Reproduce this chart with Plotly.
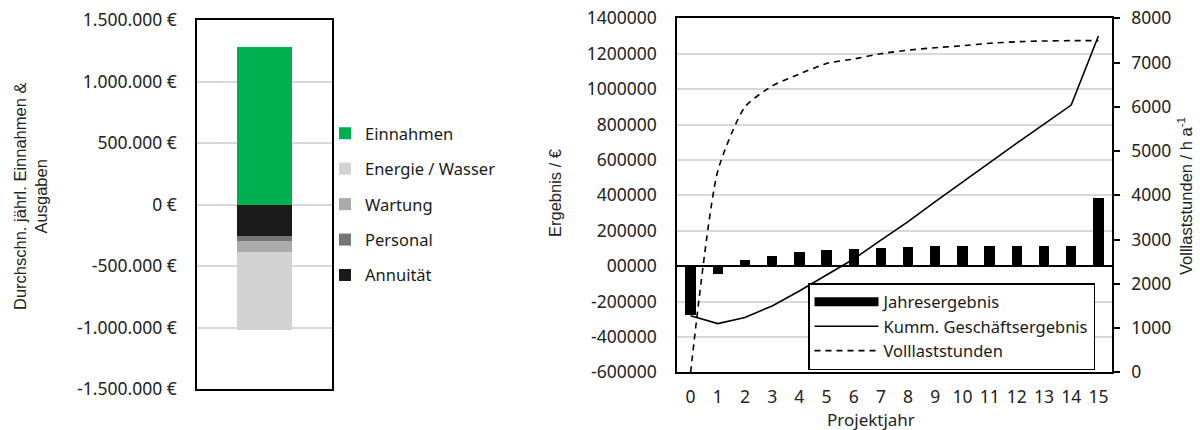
import plotly.graph_objects as go

# ---------------- data: left chart (average yearly income & costs) ----------------
avg_categories = ["Einnahmen", "Annuität", "Personal", "Wartung", "Energie / Wasser"]
avg_values = [1280000, -260000, -40000, -90000, -630000]
avg_colors = ["#00B050", "#1A1A1A", "#767676", "#ABABAB", "#D3D3D3"]
avg_legend_rank = [1, 5, 4, 3, 2]
left_tick_vals = [1500000, 1000000, 500000, 0, -500000, -1000000, -1500000]
left_tick_text = ["1.500.000 €", "1.000.000 €", "500.000 €", "0 €",
                  "-500.000 €", "-1.000.000 €", "-1.500.000 €"]

# ---------------- data: right chart (project years) ----------------
years = [0, 1, 2, 3, 4, 5, 6, 7, 8, 9, 10, 11, 12, 13, 14, 15]
jahresergebnis = [-280000, -47000, 34000, 58000, 77000, 90000, 94000, 100000,
                  106000, 110000, 110000, 113000, 113000, 113000, 113000, 383000]
kumm_ergebnis = [-280000, -325000, -290000, -225000, -141000, -51000, 40000, 147000,
                 251000, 364000, 475000, 585000, 695000, 802000, 910000, 1300000]
volllaststunden = [0, 4550, 6000, 6470, 6740, 6980, 7080, 7200,
                   7280, 7335, 7380, 7435, 7470, 7487, 7495, 7495]
right_tick_vals = [1400000, 1200000, 1000000, 800000, 600000, 400000, 200000, 0,
                   -200000, -400000, -600000]
right_tick_text = ["1400000", "1200000", "1000000", "800000", "600000", "400000",
                   "200000", "00000", "-200000", "-400000", "-600000"]
hours_tick_vals = [0, 1000, 2000, 3000, 4000, 5000, 6000, 7000, 8000]

W, H = 1200, 430
TICKFONT = dict(family="Noto Sans", size=17.5, color="#222222")
LEGFONT = dict(family="Noto Sans", size=16.5, color="#1A1A1A")
LEG2FONT = dict(family="Noto Sans", size=16.5, color="#1A1A1A")
TITLEFONT = dict(family="Liberation Sans", size=16.5, color="#222222")


def px_x(x):
    return x / W


def px_y(y):
    return 1 - y / H


fig = go.Figure()

# left stacked bar
for cat, val, col, rk in zip(avg_categories, avg_values, avg_colors, avg_legend_rank):
    fig.add_trace(go.Bar(
        x=[0], y=[val], name=cat, marker=dict(color=col, line=dict(width=0)),
        width=0.41, xaxis="x", yaxis="y", legend="legend", legendrank=rk,
        legendgroup=cat, hoverinfo="skip"))

# right chart
fig.add_trace(go.Bar(
    x=years, y=jahresergebnis, name="Jahresergebnis", marker=dict(color="black", line=dict(width=0)),
    width=0.38, xaxis="x2", yaxis="y2", showlegend=False, hoverinfo="skip"))
fig.add_trace(go.Scatter(
    x=years, y=kumm_ergebnis, name="Kumm. Geschäftsergebnis", mode="lines",
    line=dict(color="black", width=1.6), xaxis="x2", yaxis="y2",
    legend="legend2", legendrank=2, hoverinfo="skip"))
fig.add_trace(go.Scatter(
    x=years, y=volllaststunden, name="Volllaststunden", mode="lines",
    line=dict(color="black", width=1.6, dash="6px,5px", shape="spline", smoothing=0.6),
    xaxis="x2", yaxis="y3", legend="legend2", legendrank=3, hoverinfo="skip"))
# legend entry for the annual-result bars (wide filled rectangle symbol)
fig.add_trace(go.Scatter(
    x=[None], y=[None], name="Jahresergebnis", mode="lines",
    line=dict(color="black", width=9), xaxis="x2", yaxis="y2",
    legend="legend2", legendrank=1, hoverinfo="skip"))

fig.update_layout(
    width=W, height=H,
    margin=dict(l=0, r=0, t=0, b=0, autoexpand=False),
    paper_bgcolor="white", plot_bgcolor="white",
    barmode="relative",
    bargap=0,
    font=TICKFONT,
    xaxis=dict(domain=[px_x(197), px_x(332)], range=[-0.5, 0.5], showticklabels=False,
               showgrid=False, zeroline=False, showline=True, mirror=True,
               linecolor="black", linewidth=1.5, fixedrange=True, automargin=False),
    yaxis=dict(domain=[px_y(389), px_y(20)], range=[-1500000, 1500000],
               tickvals=left_tick_vals, ticktext=left_tick_text, tickfont=TICKFONT,
               showgrid=True, gridcolor="#D9D9D9", gridwidth=1.5, zeroline=False,
               showline=True, mirror=True, linecolor="black", linewidth=1.5,
               ticks="", ticklabelstandoff=15, fixedrange=True, automargin=False),
    xaxis2=dict(domain=[px_x(677), px_x(1112)], range=[-0.5, 15.5],
                tickvals=years, ticktext=[str(y) for y in years], tickfont=TICKFONT,
                showgrid=False, zeroline=False, showline=True, mirror=True,
                linecolor="black", linewidth=1.5, ticks="", ticklabelstandoff=8,
                anchor="y2", fixedrange=True, automargin=False),
    yaxis2=dict(domain=[px_y(372.3), px_y(18.3)], range=[-600000, 1400000],
                tickvals=right_tick_vals, ticktext=right_tick_text, tickfont=TICKFONT,
                showgrid=True, gridcolor="#D9D9D9", gridwidth=1.5,
                zeroline=True, zerolinecolor="black", zerolinewidth=1.5,
                showline=True, mirror=True, linecolor="black", linewidth=1.5,
                ticks="", ticklabelstandoff=15, anchor="x2", fixedrange=True,
                automargin=False),
    yaxis3=dict(domain=[px_y(372.3), px_y(18.3)], range=[0, 8000], overlaying="y2",
                side="right", anchor="x2", tickvals=hours_tick_vals, tickfont=TICKFONT,
                showgrid=False, zeroline=False, showline=True, linecolor="black",
                linewidth=1.5, ticks="outside", ticklen=6, tickwidth=1.5,
                tickcolor="black", ticklabelstandoff=8, fixedrange=True,
                automargin=False),
    legend=dict(x=px_x(325), y=px_y(116), xanchor="left", yanchor="top",
                font=LEGFONT, bgcolor="rgba(0,0,0,0)", borderwidth=0,
                tracegroupgap=11, traceorder="grouped", itemwidth=30),
    legend2=dict(x=px_x(808), y=px_y(283), xanchor="left", yanchor="top",
                 font=LEG2FONT, bgcolor="white", bordercolor="black", borderwidth=1.5,
                 itemwidth=64, tracegroupgap=0),
    annotations=[
        dict(text="Durchschn. jährl. Einnahmen &<br>Ausgaben", x=px_x(30), y=px_y(197),
             xref="paper", yref="paper", textangle=-90, showarrow=False,
             xanchor="center", yanchor="middle", font=TITLEFONT, align="center"),
        dict(text="Ergebnis / €", x=px_x(555), y=px_y(193), xref="paper", yref="paper",
             textangle=-90, showarrow=False, xanchor="center", yanchor="middle",
             font=TITLEFONT),
        dict(text="Volllaststunden / h a<sup>-1</sup>", x=px_x(1185), y=px_y(196),
             xref="paper", yref="paper", textangle=-90, showarrow=False,
             xanchor="center", yanchor="middle", font=TITLEFONT),
        dict(text="Projektjahr", x=px_x(871), y=px_y(419), xref="paper", yref="paper",
             showarrow=False, xanchor="center", yanchor="middle",
             font=dict(family="Noto Sans", size=17, color="#222222")),
    ],
)

fig.write_html("out.html", config={"displayModeBar": False})
